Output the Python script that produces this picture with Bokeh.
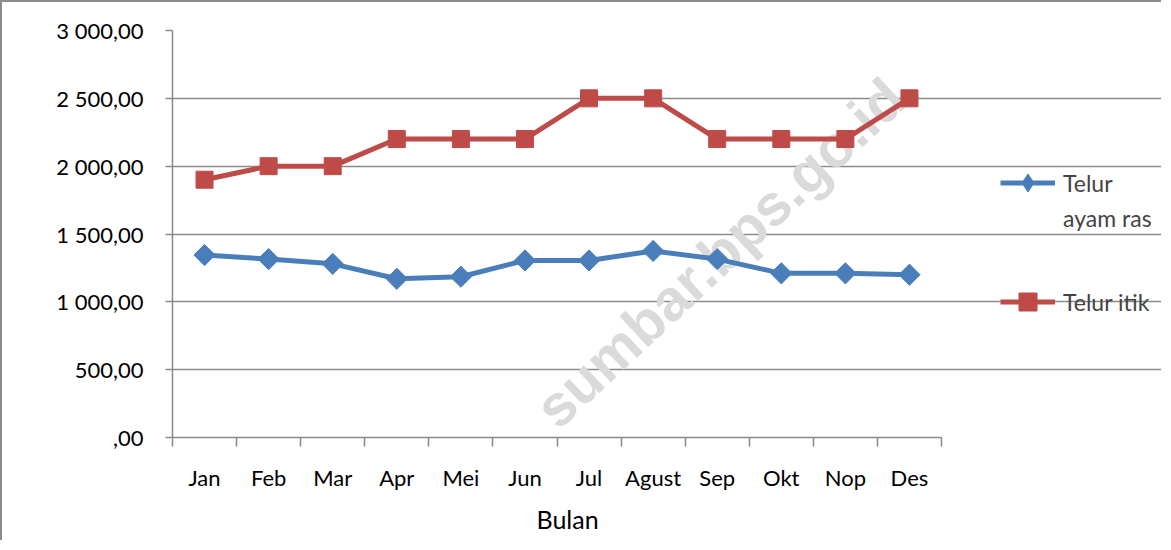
import math
from bokeh.plotting import figure
from bokeh.models import FixedTicker, Legend, LegendItem, Label, Range1d, Title
from bokeh.embed import file_html
from bokeh.resources import INLINE

months = ["Jan", "Feb", "Mar", "Apr", "Mei", "Jun", "Jul", "Agust", "Sep", "Okt", "Nop", "Des"]
ayam_ras = [1345, 1315, 1280, 1170, 1185, 1305, 1305, 1375, 1315, 1210, 1210, 1200]
itik = [1900, 2000, 2000, 2200, 2200, 2200, 2500, 2500, 2200, 2200, 2200, 2500]
y_ticks = [0, 500, 1000, 1500, 2000, 2500, 3000]
y_tick_labels = [",00", "500,00", "1 000,00", "1 500,00", "2 000,00", "2 500,00", "3 000,00"]
series_names = ["Telur", "ayam ras", "Telur itik"]
x_title = "Bulan"
watermark = "sumbar.bps.go.id"

FONT = "Lato"
GRID = "#8a8a8a"
BLUE = "#4a7ebb"
RED = "#be4b48"

W, H = 1161, 540
LEFT, TOP, BOTTOM = 170, 28, 104
PLOT_W = 769  # pixel width of the category area
n = len(months)
x_end = n * (W - LEFT) / PLOT_W

xc = [i + 0.5 for i in range(n)]
bounds = list(range(n + 1))

p = figure(width=W, height=H, output_backend="svg", toolbar_location=None,
           x_range=Range1d(0, x_end), y_range=Range1d(0, 3000),
           min_border_left=LEFT, min_border_right=0, min_border_top=TOP,
           min_border_bottom=BOTTOM)
p.outline_line_color = None
p.background_fill_color = "white"
p.border_fill_color = "white"
p.styles = {"border-left": "2px solid #8c8c8c", "border-top": "2px solid #8c8c8c"}

# watermark
wm = Label(x=8.54, y=1364, text=watermark, angle=math.radians(43), text_align="center",
           text_baseline="middle", text_font="Liberation Sans", text_font_style="bold",
           text_font_size="58px", text_color="#dadada", level="underlay")
p.add_layout(wm)

# axes
p.xaxis.ticker = FixedTicker(ticks=xc, minor_ticks=bounds)
p.xaxis.bounds = (0, n)
p.xaxis.major_label_overrides = {v: m for v, m in zip(xc, months)}
p.xaxis.major_tick_line_color = None
p.xaxis.minor_tick_line_color = GRID
p.xaxis.minor_tick_line_width = 1.5
p.xaxis.minor_tick_in = 0
p.xaxis.minor_tick_out = 9
p.xaxis.axis_line_color = GRID
p.xaxis.axis_line_width = 1.5
p.xaxis.major_label_text_font = FONT
p.xaxis.major_label_text_font_size = "22px"
p.xaxis.major_label_text_color = "black"
p.xaxis.major_label_standoff = 17

# x-axis title, centred under the category area
p.add_layout(Title(text=x_title, align="left", offset=364, standoff=17,
                   text_font=FONT, text_font_size="25px", text_font_style="normal",
                   text_color="black"), "below")

p.yaxis.ticker = FixedTicker(ticks=y_ticks)
p.yaxis.major_label_overrides = {v: t for v, t in zip(y_ticks, y_tick_labels)}
p.yaxis.major_tick_line_color = GRID
p.yaxis.major_tick_line_width = 1.5
p.yaxis.major_tick_in = 0
p.yaxis.major_tick_out = 7
p.yaxis.minor_tick_line_color = None
p.yaxis.axis_line_color = GRID
p.yaxis.axis_line_width = 1.5
p.yaxis.major_label_text_font = FONT
p.yaxis.major_label_text_font_size = "22px"
p.yaxis.major_label_text_color = "black"
p.yaxis.major_label_standoff = 22

p.xgrid.visible = False
p.ygrid.ticker = FixedTicker(ticks=y_ticks)
p.ygrid.bounds = (0, n)
p.ygrid.grid_line_color = GRID
p.ygrid.grid_line_width = 1.5

# series
l1 = p.line(xc, ayam_ras, line_width=5, line_color=BLUE, line_join="round")
# diamond marks (used for the legend swatch; covered by the rotated squares below)
d1 = p.scatter(xc, ayam_ras, marker="diamond", size=12, fill_color=BLUE, line_color=BLUE)
s1 = p.scatter(xc, ayam_ras, marker="square", angle=math.pi / 4, size=15,
               fill_color=BLUE, line_color=BLUE)
l2 = p.line(xc, itik, line_width=5, line_color=RED, line_join="round")
s2 = p.scatter(xc, itik, marker="square", size=17, fill_color=RED, line_color=RED)

common = dict(padding=0, margin=0, glyph_width=55, glyph_height=45, label_height=20,
              label_standoff=8, label_text_font=FONT, label_text_font_size="23px",
              border_line_color=None, background_fill_alpha=0, spacing=0)

legend_a1 = Legend(items=[LegendItem(label=series_names[0], renderers=[l1, d1])],
                   location=(828, 232), **common)
legend_a2 = Legend(items=[LegendItem(label=series_names[1], renderers=[])],
                   location=(828, 197), **common)
legend_b = Legend(items=[LegendItem(label=series_names[2], renderers=[l2, s2])],
                  location=(828, 113), **common)
p.add_layout(legend_a1)
p.add_layout(legend_a2)
p.add_layout(legend_b)

open("out.html", "w").write(file_html(p, INLINE))
